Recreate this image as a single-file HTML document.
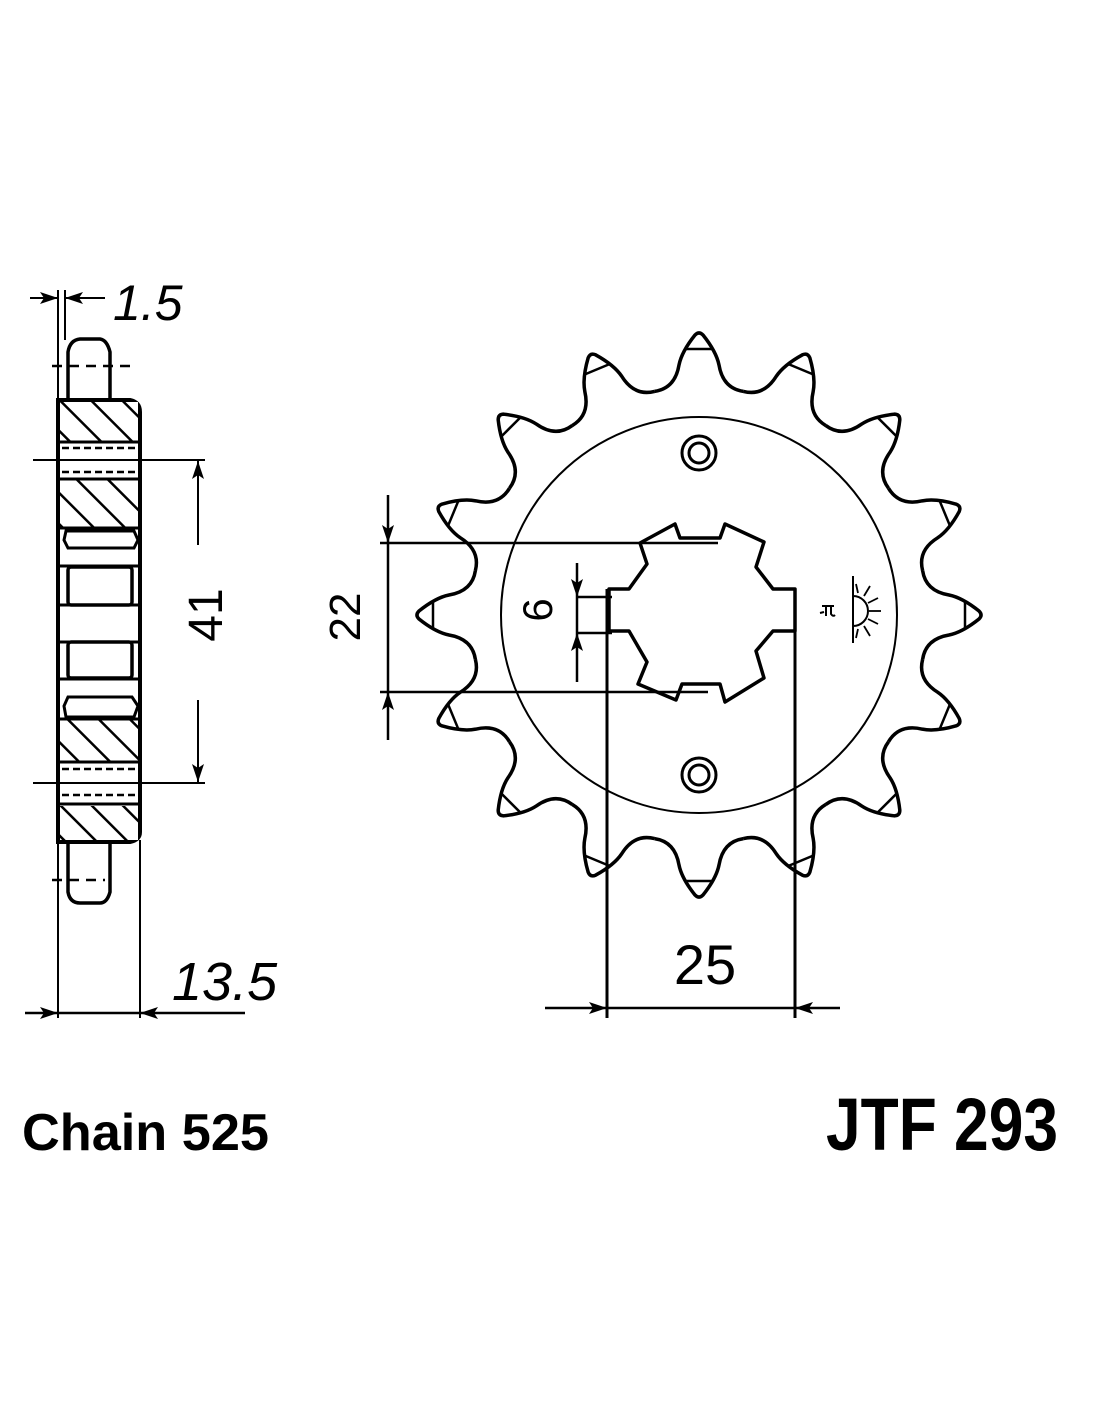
<!DOCTYPE html>
<html><head><meta charset="utf-8"><style>
html,body{margin:0;padding:0;background:#fff}
svg{display:block}
text{font-family:"Liberation Sans",sans-serif;fill:#000}
</style></head><body>
<svg width="1100" height="1422" viewBox="0 0 1100 1422" xmlns="http://www.w3.org/2000/svg">
<defs>
<pattern id="h" patternUnits="userSpaceOnUse" width="22" height="22" patternTransform="rotate(-45)">
<rect width="22" height="22" fill="#fff"/>
<line x1="0" y1="0" x2="0" y2="22" stroke="#000" stroke-width="5"/>
</pattern>
<marker id="a" viewBox="0 0 18 12" refX="18" refY="6" markerWidth="18" markerHeight="12" orient="auto-start-reverse" markerUnits="userSpaceOnUse">
<path d="M0,0 L18,6 L0,12 L4,6 Z" fill="#000"/>
</marker>
<g id="tooth">
<path d="M -44.5,-223.6 C -28,-226 -22,-238 -20,-250 C -18,-260 -12,-270 -4,-280 Q 0,-284 4,-280 C 12,-270 18,-260 20,-250 C 22,-238 28,-226 44.5,-223.6" fill="none" stroke="#000" stroke-width="3.5" stroke-linejoin="round"/>
<line x1="-13" y1="-266" x2="13" y2="-266" stroke="#000" stroke-width="2.5"/>
</g>
</defs>

<!-- SIDE VIEW -->
<g stroke="#000" fill="none">
<line x1="58" y1="290" x2="58" y2="1018" stroke-width="2"/>
<line x1="65" y1="290" x2="65" y2="340" stroke-width="2"/>
<line x1="140" y1="840" x2="140" y2="1018" stroke-width="2"/>
<line x1="30" y1="298" x2="58" y2="298" stroke-width="2" marker-end="url(#a)"/>
<line x1="105" y1="298" x2="65" y2="298" stroke-width="2" marker-end="url(#a)"/>
<path d="M68,398 L68,352 Q70,340 80,339 L100,339 Q107,340 110,352 L110,398" stroke-width="3.5" fill="#fff"/>
<path d="M68,842 L68,892 Q70,903 80,903 L100,903 Q107,903 110,892 L110,842" stroke-width="3.5" fill="#fff"/>
<line x1="52" y1="366" x2="130" y2="366" stroke-width="2.5" stroke-dasharray="10,7"/>
<line x1="52" y1="880" x2="105" y2="880" stroke-width="2.5" stroke-dasharray="10,7"/>
<path d="M58,400 L130,400 Q140,402 140,412 L140,832 Q140,840 130,842 L58,842 Z" stroke-width="4" fill="#fff"/>
<rect x="60" y="402" width="78" height="40" fill="url(#h)" stroke="none"/>
<rect x="60" y="480" width="78" height="48" fill="url(#h)" stroke="none"/>
<rect x="60" y="720" width="78" height="42" fill="url(#h)" stroke="none"/>
<rect x="60" y="806" width="78" height="34" fill="url(#h)" stroke="none"/>
<line x1="58" y1="442" x2="140" y2="442" stroke-width="3"/>
<line x1="62" y1="448" x2="136" y2="448" stroke-width="2.5" stroke-dasharray="7,4"/>
<line x1="62" y1="472" x2="136" y2="472" stroke-width="2.5" stroke-dasharray="7,4"/>
<line x1="58" y1="479" x2="140" y2="479" stroke-width="3"/>
<line x1="58" y1="762" x2="140" y2="762" stroke-width="3"/>
<line x1="62" y1="769" x2="136" y2="769" stroke-width="2.5" stroke-dasharray="7,4"/>
<line x1="62" y1="795" x2="136" y2="795" stroke-width="2.5" stroke-dasharray="7,4"/>
<line x1="58" y1="804" x2="140" y2="804" stroke-width="3"/>
<line x1="58" y1="528" x2="140" y2="528" stroke-width="3"/>
<path d="M66,531 L134,531 L138,540 L134,548 L68,548 L64,540 Z" stroke-width="3"/>
<line x1="58" y1="566" x2="140" y2="566" stroke-width="3"/>
<rect x="68" y="567" width="64" height="38" rx="3" stroke-width="3.5"/>
<line x1="58" y1="605" x2="140" y2="605" stroke-width="3"/>
<line x1="58" y1="642" x2="140" y2="642" stroke-width="3"/>
<rect x="68" y="642" width="64" height="36" rx="3" stroke-width="3.5"/>
<line x1="58" y1="679" x2="140" y2="679" stroke-width="3"/>
<path d="M68,697 L132,697 L138,706 L134,717 L66,717 L64,706 Z" stroke-width="3"/>
<line x1="58" y1="719" x2="140" y2="719" stroke-width="3"/>
<line x1="33" y1="460" x2="205" y2="460" stroke-width="2"/>
<line x1="33" y1="783" x2="205" y2="783" stroke-width="2"/>
<line x1="198" y1="545" x2="198" y2="461" stroke-width="2" marker-end="url(#a)"/>
<line x1="198" y1="700" x2="198" y2="782" stroke-width="2" marker-end="url(#a)"/>
<line x1="25" y1="1013" x2="58" y2="1013" stroke-width="2.5" marker-end="url(#a)"/>
<line x1="245" y1="1013" x2="140" y2="1013" stroke-width="2.5" marker-end="url(#a)"/>
<line x1="58" y1="1013" x2="140" y2="1013" stroke-width="2.5"/>
</g>
<text x="113" y="320" font-size="50" font-style="italic">1.5</text>
<text x="172" y="1000" font-size="54" font-style="italic">13.5</text>
<text transform="translate(222,615) rotate(-90)" font-size="48" text-anchor="middle">41</text>

<!-- SPROCKET -->
<g transform="translate(699,615)">
<use href="#tooth"/>
<use href="#tooth" transform="rotate(22.5)"/>
<use href="#tooth" transform="rotate(45)"/>
<use href="#tooth" transform="rotate(67.5)"/>
<use href="#tooth" transform="rotate(90)"/>
<use href="#tooth" transform="rotate(112.5)"/>
<use href="#tooth" transform="rotate(135)"/>
<use href="#tooth" transform="rotate(157.5)"/>
<use href="#tooth" transform="rotate(180)"/>
<use href="#tooth" transform="rotate(202.5)"/>
<use href="#tooth" transform="rotate(225)"/>
<use href="#tooth" transform="rotate(247.5)"/>
<use href="#tooth" transform="rotate(270)"/>
<use href="#tooth" transform="rotate(292.5)"/>
<use href="#tooth" transform="rotate(315)"/>
<use href="#tooth" transform="rotate(337.5)"/>
<circle r="198" fill="none" stroke="#000" stroke-width="2"/>
</g>
<g fill="none" stroke="#000">
<circle cx="699" cy="453" r="17" stroke-width="3"/>
<circle cx="699" cy="453" r="10" stroke-width="3"/>
<circle cx="699" cy="775" r="17" stroke-width="3"/>
<circle cx="699" cy="775" r="10" stroke-width="3"/>
<polygon points="640,543 675,524 680,538 720,538 725,524 764,542 756,567 773,589 795,589 795,631 773,631 756,651 764,678 725,702 720,684 682,684 676,700 638,684 647,662 629,631 609,631 609,589 629,589 647,564" stroke-width="3.5" stroke-linejoin="round"/>
<line x1="380" y1="543" x2="718" y2="543" stroke-width="2.5"/>
<line x1="380" y1="692" x2="708" y2="692" stroke-width="2.5"/>
<line x1="388" y1="495" x2="388" y2="543" stroke-width="2.5" marker-end="url(#a)"/>
<line x1="388" y1="740" x2="388" y2="692" stroke-width="2.5" marker-end="url(#a)"/>
<line x1="388" y1="543" x2="388" y2="692" stroke-width="2.5"/>
<line x1="577" y1="563" x2="577" y2="597" stroke-width="2.5" marker-end="url(#a)"/>
<line x1="577" y1="682" x2="577" y2="633" stroke-width="2.5" marker-end="url(#a)"/>
<line x1="577" y1="597" x2="577" y2="633" stroke-width="2.5"/>
<line x1="577" y1="597" x2="612" y2="597" stroke-width="2.5"/>
<line x1="577" y1="633" x2="612" y2="633" stroke-width="2.5"/>
<line x1="607" y1="589" x2="607" y2="1018" stroke-width="3"/>
<line x1="795" y1="631" x2="795" y2="1018" stroke-width="3"/>
<line x1="545" y1="1008" x2="607" y2="1008" stroke-width="2.5" marker-end="url(#a)"/>
<line x1="840" y1="1008" x2="795" y2="1008" stroke-width="2.5" marker-end="url(#a)"/>
<line x1="607" y1="1008" x2="795" y2="1008" stroke-width="2.5"/>
<line x1="853" y1="576" x2="853" y2="643" stroke-width="2"/>
<path d="M853,596 A15,15 0 0 1 853,626" stroke-width="2"/>
<g stroke-width="1.8">
<line x1="858" y1="593" x2="856" y2="584"/>
<line x1="864" y1="596" x2="870" y2="586"/>
<line x1="868" y1="603" x2="878" y2="598"/>
<line x1="869" y1="611" x2="881" y2="611"/>
<line x1="868" y1="619" x2="878" y2="624"/>
<line x1="864" y1="626" x2="870" y2="636"/>
<line x1="858" y1="629" x2="856" y2="638"/>
</g>
<path d="M822,606 L834,606 M826,606 L826,616 M831,606 L831,614 Q833,617 835,615 M820,613 L824,612" stroke-width="2"/>
</g>
<text transform="translate(360,617) rotate(-90)" font-size="44" text-anchor="middle">22</text>
<text transform="translate(552,610) rotate(-90)" font-size="42" text-anchor="middle">6</text>
<text x="705" y="984" font-size="56" text-anchor="middle">25</text>

<text x="22" y="1150" font-size="52" font-weight="bold" textLength="247" lengthAdjust="spacingAndGlyphs">Chain 525</text>
<text x="826" y="1150" font-size="74" font-weight="bold" textLength="232" lengthAdjust="spacingAndGlyphs">JTF 293</text>
</svg>
</body></html>
